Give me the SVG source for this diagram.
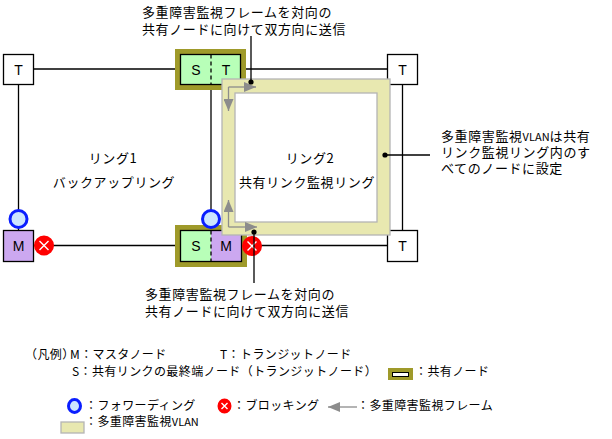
<svg xmlns="http://www.w3.org/2000/svg" width="612" height="439" viewBox="0 0 612 439">
<style>
text{font-family:"Noto Sans CJK JP","Noto Sans",sans-serif;fill:#000}
.lbl{font-size:13px;letter-spacing:0.6px}
.lg{font-size:12px;letter-spacing:0.4px}
.nl{font-family:"Liberation Sans",sans-serif;font-size:14px;text-anchor:middle}
.v{font-size:11px;letter-spacing:0}
.ln{stroke:#000;stroke-width:1.3;fill:none}
.box{stroke:#000;stroke-width:1.3}
.olive{fill:#9f9a2a}
.green{fill:#b8ffb8}
.purple{fill:#cca8f0}
.white{fill:#fff}
.fwd{fill:#cce5ff;stroke:#0a1eff;stroke-width:3}
.blk{fill:#ff0000;stroke:#ff0000;stroke-width:2}
.x{stroke:#fff;stroke-width:1.4}
.vlan{fill:#e8e8b0;stroke:#b4b4b4;stroke-width:1.3}
.frame{stroke:#8c8c8c;stroke-width:1.3;fill:none;marker-end:url(#ah)}
.dot{fill:#000}
</style>
<defs>
<marker id="ah" viewBox="0 0 12 10" refX="12" refY="5" markerWidth="12" markerHeight="10" markerUnits="userSpaceOnUse" orient="auto">
<path d="M0,0 L12,5 L0,10 z" fill="#8c8c8c"/>
</marker>
</defs>

<g id="connectors">
<line class="ln" x1="33" y1="69" x2="175" y2="69"/>
<line class="ln" x1="246" y1="69" x2="387" y2="69"/>
<line class="ln" x1="18.5" y1="84" x2="18.5" y2="230"/>
<line class="ln" x1="33" y1="245.5" x2="175" y2="245.5"/>
<line class="ln" x1="247" y1="245.5" x2="387" y2="245.5"/>
<line class="ln" x1="211" y1="90" x2="211" y2="225"/>
<line class="ln" x1="402.5" y1="84" x2="402.5" y2="230"/>
</g>

<g id="node-t1">
<rect class="box white" x="3.5" y="54.5" width="30" height="30"/>
<text class="nl" x="18.5" y="74.5">T</text>
</g>
<g id="node-t2">
<rect class="box white" x="387.5" y="54.5" width="30" height="30"/>
<text class="nl" x="402.5" y="74.5">T</text>
</g>
<g id="node-t3">
<rect class="box white" x="387.5" y="230.5" width="30" height="31"/>
<text class="nl" x="402.5" y="251">T</text>
</g>
<g id="node-m">
<rect class="box purple" x="3.5" y="230.5" width="30" height="31"/>
<text class="nl" x="18.5" y="251">M</text>
</g>
<g id="node-shared-top">
<rect class="olive" x="175" y="49" width="71" height="41"/>
<rect class="box green" x="180.5" y="54.5" width="60" height="30"/>
<line x1="211" y1="54.5" x2="211" y2="84.5" stroke="#000" stroke-width="1.3" stroke-dasharray="4,3"/>
<text class="nl" x="196" y="74.5">S</text>
<text class="nl" x="226" y="74.5">T</text>
</g>
<g id="node-shared-bottom">
<rect class="olive" x="175" y="225" width="72" height="42"/>
<rect class="green" x="180.5" y="230.5" width="30.5" height="31"/>
<rect class="purple" x="211" y="230.5" width="30.5" height="31"/>
<rect class="box" fill="none" x="180.5" y="230.5" width="61" height="31"/>
<line x1="211" y1="230.5" x2="211" y2="261.5" stroke="#000" stroke-width="1.3" stroke-dasharray="4,3"/>
<text class="nl" x="196" y="251">S</text>
<text class="nl" x="226" y="251">M</text>
</g>

<g id="vlan-ring">
<rect class="vlan" x="222" y="79" width="168" height="156"/>
<rect class="white" stroke="#b4b4b4" stroke-width="1.3" x="235" y="93" width="142" height="129"/>
</g>

<g id="frames">
<path class="frame" d="M228.5,87 H256"/>
<path class="frame" d="M228.5,87 V111"/>
<path class="frame" d="M228.5,227 V200"/>
<path class="frame" d="M228.5,227 H257"/>
</g>

<g id="states">
<circle class="fwd" cx="18.5" cy="219" r="8.5"/>
<circle class="fwd" cx="211" cy="219" r="8.5"/>
<g id="blk1">
<circle class="blk" cx="44" cy="245.5" r="9"/>
<path class="x" d="M39.5,241 L48.5,250 M48.5,241 L39.5,250"/>
</g>
<g id="blk2">
<circle class="blk" cx="252" cy="246" r="9"/>
<path class="x" d="M247.5,241.5 L256.5,250.5 M256.5,241.5 L247.5,250.5"/>
</g>
</g>

<g id="callouts">
<line class="ln" x1="251" y1="36" x2="251" y2="82"/>
<circle class="dot" cx="251" cy="82" r="2.6"/>
<line class="ln" x1="254" y1="232" x2="254" y2="283"/>
<circle class="dot" cx="254" cy="232" r="2.6"/>
<line class="ln" x1="385" y1="155" x2="430" y2="155"/>
<circle class="dot" cx="385" cy="155" r="2.6"/>
</g>

<g id="labels">
<text class="lbl" x="142" y="17">多重障害監視フレームを対向の</text>
<text class="lbl" x="142" y="34">共有ノードに向けて双方向に送信</text>
<text class="lbl" x="145" y="299">多重障害監視フレームを対向の</text>
<text class="lbl" x="145" y="316">共有ノードに向けて双方向に送信</text>
<text class="lbl" x="113" y="163" text-anchor="middle">リング1</text>
<text class="lbl" x="114" y="187" text-anchor="middle">バックアップリング</text>
<text class="lbl" x="310" y="163" text-anchor="middle">リング2</text>
<text class="lbl" x="307" y="187" text-anchor="middle">共有リンク監視リング</text>
<text class="lbl" x="441" y="141">多重障害監視<tspan class="v">VLAN</tspan>は共有</text>
<text class="lbl" x="441" y="157">リンク監視リング内のす</text>
<text class="lbl" x="441" y="173">べてのノードに設定</text>
</g>

<g id="legend">
<text class="lg" x="25" y="359">（凡例）</text>
<text class="lg" x="70" y="359">M：マスタノード</text>
<text class="lg" x="220" y="359">T：トランジットノード</text>
<text class="lg" x="72" y="376">S：共有リンクの最終端ノード（トランジットノード）</text>
<rect class="olive" x="388" y="368" width="25" height="12"/>
<rect fill="#fff" stroke="#000" stroke-width="1" x="392.5" y="372.5" width="16" height="4"/>
<text class="lg" x="415" y="376">：共有ノード</text>
<ellipse class="fwd" cx="74.5" cy="406" rx="6" ry="6.5"/>
<text class="lg" x="85" y="410">：フォワーディング</text>
<g>
<ellipse class="blk" cx="224.5" cy="406" rx="6" ry="6.5"/>
<path class="x" d="M221.5,403 L227.5,409 M227.5,403 L221.5,409"/>
</g>
<text class="lg" x="233" y="410">：ブロッキング</text>
<path class="frame" d="M357,407 H328"/>
<text class="lg" x="357" y="410">：多重障害監視フレーム</text>
<rect class="vlan" x="61" y="422" width="23" height="11"/>
<text class="lg" x="85" y="426">：多重障害監視<tspan class="v">VLAN</tspan></text>
</g>
</svg>
